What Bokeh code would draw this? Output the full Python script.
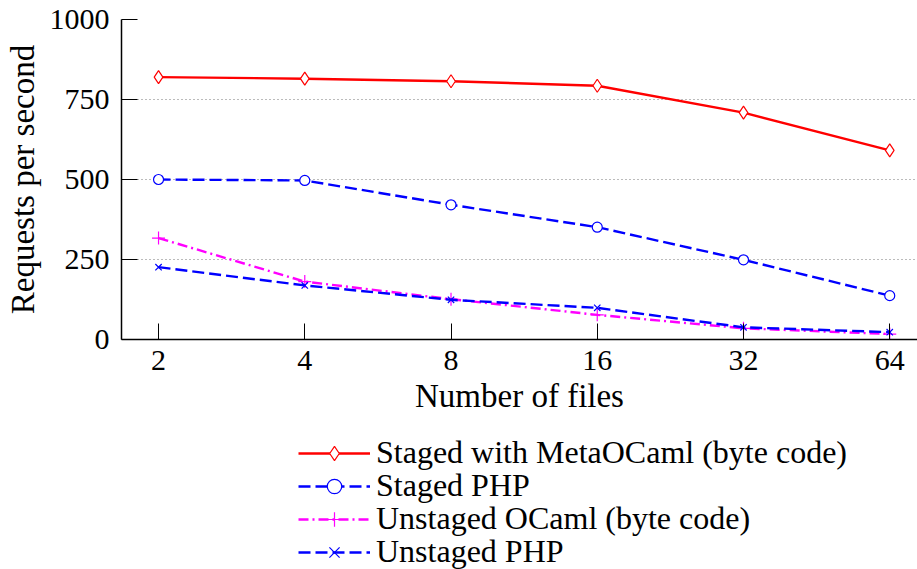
from bokeh.plotting import figure
from bokeh.layouts import column
from bokeh.models import FixedTicker, Legend, LegendItem, Range1d, NumeralTickFormatter
from bokeh.embed import file_html
from bokeh.resources import INLINE

files = [2, 4, 8, 16, 32, 64]
staged_metaocaml = [820, 815, 807, 793, 709, 591]
staged_php = [500, 497, 421, 351, 249, 137]
unstaged_ocaml = [317, 181, 126, 77, 35, 17]
unstaged_php = [226, 169, 124, 99, 38, 23]
y_ticks = [0, 250, 500, 750, 1000]
series_names = ["Staged with MetaOCaml (byte code)", "Staged PHP",
                "Unstaged OCaml (byte code)", "Unstaged PHP"]

FONT = "Liberation Serif"

styles = [
    dict(color="#ff0000", dash="solid", marker="diamond", size=13, fill="white"),
    dict(color="#0000ff", dash="12 5", marker="circle", size=10, fill="white"),
    dict(color="#ff00ff", dash="10 4 2 4", marker="cross", size=13, fill=None),
    dict(color="#0000ff", dash="12 5", marker="x", size=9, fill=None),
]
series = [staged_metaocaml, staged_php, unstaged_ocaml, unstaged_php]

TOP, FRAME_H, BOTTOM = 19, 320, 95
LEGEND_H = 569 - TOP - FRAME_H - BOTTOM

p = figure(frame_width=796, frame_height=FRAME_H, output_backend="svg", toolbar_location=None,
           x_axis_type="log", min_border_left=121, min_border_right=0,
           min_border_top=TOP, min_border_bottom=BOTTOM)
p.x_range = Range1d(1.678, 73.0)
p.y_range = Range1d(0, 1000)
p.outline_line_color = None

p.xaxis.ticker = FixedTicker(ticks=files, minor_ticks=[])
p.xaxis.formatter = NumeralTickFormatter(format="0")
p.yaxis.ticker = FixedTicker(ticks=y_ticks, minor_ticks=[])

for ax in (p.xaxis[0], p.yaxis[0]):
    ax.axis_line_color = "black"
    ax.axis_line_width = 1.5
    ax.major_tick_in = 16
    ax.major_tick_out = 0
    ax.minor_tick_in = 0
    ax.minor_tick_out = 0
    ax.major_tick_line_color = "black"
    ax.major_tick_line_width = 1
    ax.major_label_text_font = FONT
    ax.major_label_text_font_size = "30px"
    ax.major_label_text_color = "black"
    ax.axis_label_text_font = FONT
    ax.axis_label_text_font_size = "33px"
    ax.axis_label_text_font_style = "normal"
    ax.axis_label_text_color = "black"

p.xaxis.axis_label = "Number of files"
p.yaxis.axis_label = "Requests per second"
p.xaxis.major_label_standoff = 11
p.yaxis.major_label_standoff = 12
p.xaxis.axis_label_standoff = 5
p.yaxis.axis_label_standoff = 6

p.xgrid.grid_line_color = None
p.ygrid.grid_line_color = "#777777"
p.ygrid.grid_line_dash = "1 3"
p.ygrid.grid_line_width = 1

for ys, st in zip(series, styles):
    p.line(files, ys, line_color=st["color"], line_width=2.4, line_dash=st["dash"])
    p.scatter(files, ys, marker=st["marker"], size=st["size"], fill_color=st["fill"],
              line_color=st["color"], line_width=1.2)

# legend panel below the chart (its own renderers fall outside its view)
q = figure(width=917, height=LEGEND_H, output_backend="svg",
           toolbar_location=None, x_axis_location=None, y_axis_location=None,
           min_border=0, x_range=(-2, -1), y_range=(-2, -1))
q.outline_line_color = None
q.grid.visible = False

ROW_STEP = 33
ITEM_H = 36
first_row_from_top = 19  # centre of first row below the legend panel's top edge
for i, (name, ys, st) in enumerate(zip(series_names, series, styles)):
    lr = q.line(files, ys, line_color=st["color"], line_width=2.4, line_dash=st["dash"])
    mr = q.scatter(files, ys, marker=st["marker"], size=st["size"], fill_color=st["fill"],
                   line_color=st["color"], line_width=1.2)
    centre = first_row_from_top + i * ROW_STEP
    vy = LEGEND_H - centre - ITEM_H / 2
    lg = Legend(items=[LegendItem(label=name, renderers=[lr, mr])], location=(177, vy))
    lg.padding = 0
    lg.margin = 0
    lg.spacing = 0
    lg.border_line_color = None
    lg.background_fill_alpha = 0
    lg.glyph_width = 72
    lg.glyph_height = ITEM_H
    lg.label_height = ITEM_H
    lg.label_standoff = 6
    lg.label_text_font = FONT
    lg.label_text_font_size = "32px"
    lg.label_text_color = "black"
    q.add_layout(lg, "center")

layout = column(p, q, spacing=0)
open("out.html", "w").write(file_html(layout, INLINE))
